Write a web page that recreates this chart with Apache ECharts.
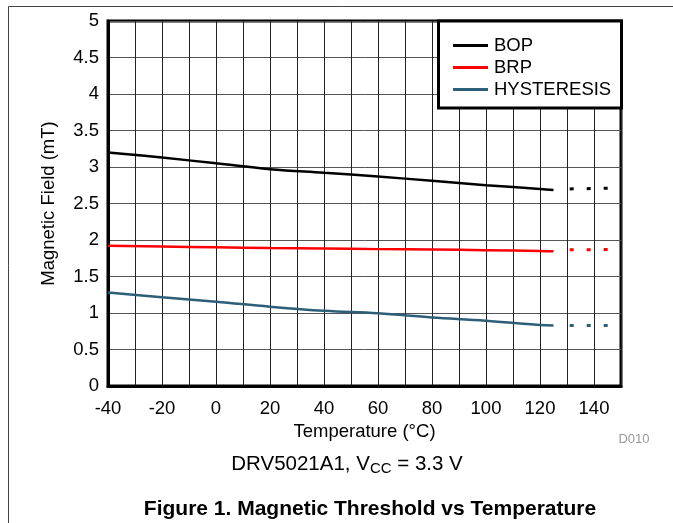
<!DOCTYPE html>
<html>
<head>
<meta charset="utf-8">
<script src="https://cdn.jsdelivr.net/npm/echarts@6/dist/echarts.min.js"></script>
<style>html,body{margin:0;padding:0;background:#fff;}#c{width:673px;height:523px;}</style>
</head>
<body>
<div id="c"></div>
<script>
// Data
const temps = [-40, -20, 0, 20, 40, 60, 80, 100, 120, 125];
const bop = [3.20, 3.13, 3.05, 2.97, 2.92, 2.87, 2.81, 2.75, 2.70, 2.685];
const brp = [1.92, 1.91, 1.90, 1.89, 1.885, 1.875, 1.87, 1.86, 1.85, 1.845];
const hyst = [1.28, 1.215, 1.155, 1.086, 1.03, 0.995, 0.94, 0.895, 0.835, 0.83];
const extTemps = [131, 148.5];
const bopExt = [2.70, 2.71];
const brpExt = [1.865, 1.87];
const hystExt = [0.83, 0.83];
const seriesNames = ['BOP', 'BRP', 'HYSTERESIS'];
const colors = ['#000000', '#ff0000', '#2d5f78'];

const pair = (xs, ys) => xs.map((x, i) => [x, ys[i]]);
const FONT = '"Liberation Sans", Arial, sans-serif';
const FS = 18.5;

const mains = [bop, brp, hyst];
const exts = [bopExt, brpExt, hystExt];
const series = [];
mains.forEach((ys, i) => {
  series.push({
    name: seriesNames[i], type: 'line', data: pair(temps, ys), smooth: 0.4,
    symbol: 'none', lineStyle: { color: colors[i], width: 2.5 }, itemStyle: { color: colors[i] }, z: 3
  });
});
exts.forEach((ys, i) => {
  series.push({
    name: seriesNames[i] + ' ext', type: 'line', data: pair(extTemps, ys),
    symbol: 'none', lineStyle: { color: colors[i], width: 3, type: [4, 13] }, z: 3
  });
});

const chart = echarts.init(document.getElementById('c'));
chart.setOption({
  animation: false,
  backgroundColor: '#fff',
  textStyle: { fontFamily: FONT },
  grid: { left: 108, top: 21, right: 52, bottom: 137, show: true, borderColor: '#000', borderWidth: 3, containLabel: false },
  xAxis: {
    type: 'value', min: -40, max: 150, interval: 10,
    name: 'Temperature (°C)', nameLocation: 'middle', nameGap: 35,
    nameTextStyle: { fontSize: FS, color: '#000', fontFamily: FONT },
    axisLine: { show: true, onZero: false, lineStyle: { color: '#000', width: 3 } },
    axisTick: { show: false },
    axisLabel: { fontSize: FS, color: '#000', margin: 13, fontFamily: FONT,
      formatter: v => (v % 20 === 0 && v < 150) ? String(v) : '' },
    splitLine: { show: true, lineStyle: { color: '#222', width: 1 } }
  },
  yAxis: {
    type: 'value', min: 0, max: 5, interval: 0.5,
    name: 'Magnetic Field (mT)', nameLocation: 'middle', nameGap: 50,
    nameTextStyle: { fontSize: FS, color: '#000', fontFamily: FONT },
    axisLine: { show: true, onZero: false, lineStyle: { color: '#000', width: 3 } },
    axisTick: { show: false },
    axisLabel: { fontSize: FS, color: '#000', margin: 9, fontFamily: FONT },
    splitLine: { show: true, lineStyle: { color: '#555', width: 1 } }
  },
  legend: {
    data: seriesNames, orient: 'vertical', left: 448, top: 31, z: 10,
    icon: 'rect', itemWidth: 35, itemHeight: 3, itemGap: 3,
    textStyle: { fontSize: FS, color: '#000', lineHeight: 19, padding: [0, 0, 0, 1], fontFamily: FONT }
  },
  graphic: [
    { type: 'rect', z: 5, shape: { x: 8.5, y: 6.5, width: 700, height: 600 }, style: { fill: null, stroke: '#444', lineWidth: 1 } },
    { type: 'rect', z: 5, shape: { x: 438.5, y: 21, width: 183, height: 87 }, style: { fill: '#fff', stroke: '#000', lineWidth: 3 } },
    { type: 'text', z: 5, x: 634, y: 439, style: { text: 'D010', fontSize: 13, fill: '#999', fontFamily: FONT, align: 'center', verticalAlign: 'middle' } },
    { type: 'text', z: 5, x: 347, y: 464, style: {
        text: '{a|DRV5021A1, V}{s|CC}{a| = 3.3 V}', align: 'center', verticalAlign: 'middle', fontFamily: FONT,
        rich: { a: { fontSize: 20.5, lineHeight: 24, fill: '#000', fontFamily: FONT },
                s: { fontSize: 15, lineHeight: 15, padding: [9, 0, 0, 0], fill: '#000', fontFamily: FONT } } } },
    { type: 'text', z: 5, x: 370, y: 509, style: { text: 'Figure 1. Magnetic Threshold vs Temperature', fontSize: 21, fontWeight: 'bold', fill: '#000', fontFamily: FONT, align: 'center', verticalAlign: 'middle' } }
  ],
  series: series
});
</script>
</body>
</html>
